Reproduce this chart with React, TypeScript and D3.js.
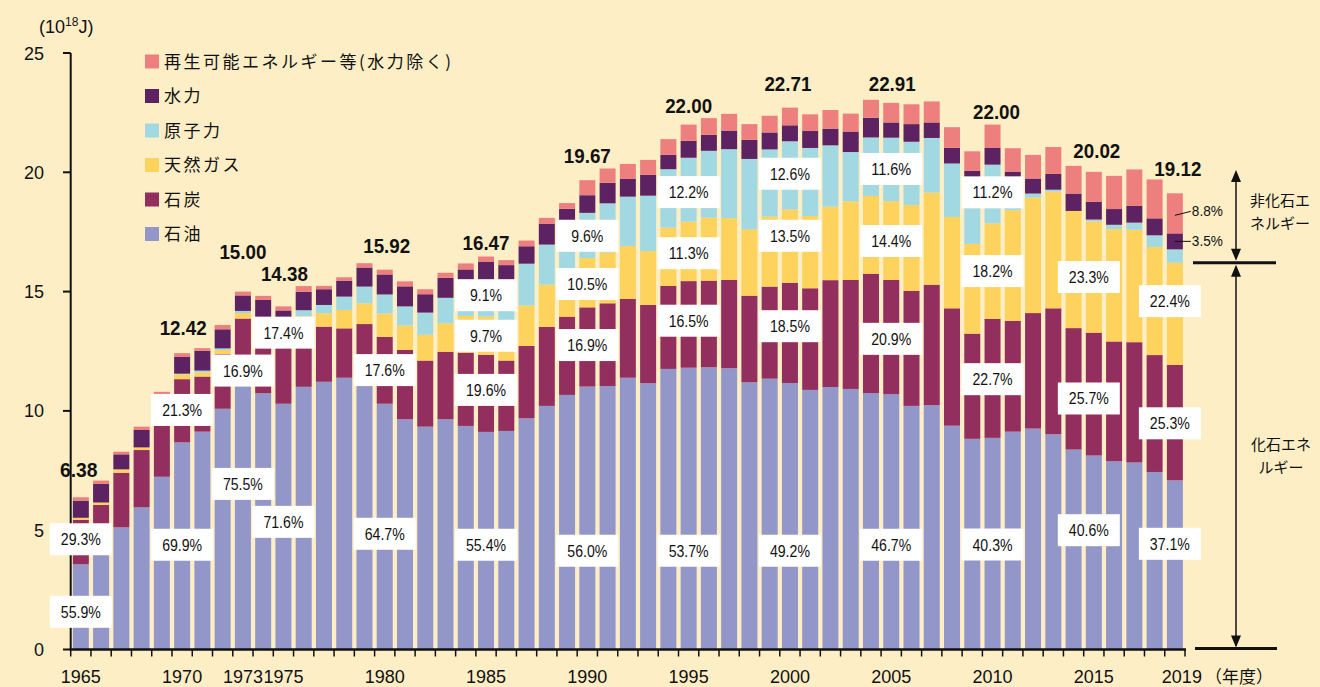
import React from "react";
import * as d3 from "d3";

// ---------- DATA ----------
const years = [
  1965, 1966, 1967, 1968, 1969, 1970, 1971, 1972, 1973, 1974,
  1975, 1976, 1977, 1978, 1979, 1980, 1981, 1982, 1983, 1984,
  1985, 1986, 1987, 1988, 1989, 1990, 1991, 1992, 1993, 1994,
  1995, 1996, 1997, 1998, 1999, 2000, 2001, 2002, 2003, 2004,
  2005, 2006, 2007, 2008, 2009, 2010, 2011, 2012, 2013, 2014,
  2015, 2016, 2017, 2018, 2019,
];
const oil = [
  3.57, 4.1, 5.12, 5.96, 7.24, 8.68, 9.13, 10.09, 11.33, 10.74,
  10.3, 11.01, 11.22, 11.39, 11.3, 10.3, 9.65, 9.34, 9.65, 9.37,
  9.12, 9.16, 9.69, 10.21, 10.67, 11.02, 11.04, 11.39, 11.16, 11.76,
  11.81, 11.83, 11.79, 11.2, 11.35, 11.17, 10.88, 11.0, 10.92, 10.75,
  10.7, 10.21, 10.24, 9.38, 8.83, 8.87, 9.13, 9.26, 9.02, 8.38,
  8.13, 7.89, 7.84, 7.44, 7.09,
];
const coal = [
  1.87, 1.96, 2.29, 2.4, 2.56, 2.65, 2.31, 2.29, 2.54, 2.74,
  2.5, 2.51, 2.31, 2.07, 2.34, 2.8, 2.91, 2.77, 2.83, 3.07,
  3.23, 2.95, 3.03, 3.31, 3.28, 3.32, 3.47, 3.3, 3.28, 3.48,
  3.63, 3.63, 3.7, 3.63, 3.86, 4.2, 4.26, 4.48, 4.57, 5.0,
  4.79, 4.82, 5.05, 4.92, 4.41, 4.99, 4.64, 4.84, 5.28, 5.09,
  5.15, 5.02, 5.04, 4.9, 4.84,
];
const gas = [
  0.08, 0.1, 0.14, 0.11, 0.15, 0.2, 0.17, 0.17, 0.23, 0.3,
  0.36, 0.45, 0.56, 0.77, 0.87, 0.98, 1.02, 1.08, 1.19, 1.54,
  1.6, 1.63, 1.7, 1.77, 1.92, 2.07, 2.13, 2.22, 2.26, 2.44,
  2.49, 2.64, 2.59, 2.78, 2.93, 3.07, 3.03, 3.08, 3.29, 3.26,
  3.3, 3.6, 3.86, 3.83, 3.76, 4.0, 4.64, 4.84, 4.89, 4.91,
  4.66, 4.71, 4.71, 4.53, 4.28,
];
const nuclear = [
  0, 0, 0, 0, 0.01, 0.03, 0.08, 0.07, 0.09, 0.12,
  0.21, 0.25, 0.35, 0.56, 0.7, 0.8, 0.8, 0.93, 1.07, 1.2,
  1.5, 1.62, 1.75, 1.68, 1.8, 1.89, 2.06, 2.07, 2.32, 2.45,
  2.68, 2.8, 2.89, 2.95, 2.82, 2.86, 2.85, 2.57, 2.07, 2.45,
  2.66, 2.65, 2.29, 2.24, 2.39, 2.46, 0.88, 0.17, 0.08, 0,
  0.08, 0.18, 0.3, 0.49, 0.56,
];
const hydro = [
  0.72, 0.78, 0.63, 0.73, 0.72, 0.7, 0.83, 0.8, 0.65, 0.75,
  0.84, 0.77, 0.66, 0.67, 0.8, 0.84, 0.84, 0.77, 0.84, 0.75,
  0.79, 0.75, 0.73, 0.88, 0.8, 0.74, 0.86, 0.74, 0.87, 0.6,
  0.71, 0.67, 0.78, 0.8, 0.71, 0.67, 0.71, 0.7, 0.86, 0.83,
  0.64, 0.74, 0.65, 0.66, 0.68, 0.7, 0.74, 0.63, 0.66, 0.73,
  0.75, 0.66, 0.7, 0.71, 0.67,
];
const renew = [
  0.14, 0.14, 0.11, 0.14, 0.12, 0.16, 0.11, 0.18, 0.16, 0.17,
  0.17, 0.24, 0.14, 0.14, 0.18, 0.2, 0.21, 0.21, 0.21, 0.25,
  0.23, 0.21, 0.24, 0.24, 0.24, 0.63, 0.6, 0.63, 0.63, 0.66,
  0.68, 0.7, 0.7, 0.66, 0.7, 0.74, 0.7, 0.78, 0.75, 0.75,
  0.82, 0.83, 0.88, 0.86, 0.81, 0.98, 0.98, 0.99, 1.13, 1.16,
  1.25, 1.39, 1.53, 1.63, 1.68,
];

const seriesKeys = ["oil", "coal", "gas", "nuclear", "hydro", "renew"];
const seriesNames = ["石油", "石炭", "天然ガス", "原子力", "水力", "再生可能エネルギー等(水力除く)"];
const seriesColors = ["#9396C9", "#922F5F", "#FDD25D", "#A2D8E1", "#5C2262", "#EE7F7F"];

const yTicks = [0, 5, 10, 15, 20, 25];
const xTickLabels = [1965, 1970, 1973, 1975, 1980, 1985, 1990, 1995, 2000, 2005, 2010, 2015, 2019];

const totalLabelYears = [1965, 1970, 1973, 1975, 1980, 1985, 1990, 1995, 2000, 2005, 2010, 2015, 2019];
const totalLabelTexts = ["6.38", "12.42", "15.00", "14.38", "15.92", "16.47", "19.67", "22.00", "22.71", "22.91", "22.00", "20.02", "19.12"];

// share labels: year, text, vertical anchor (in 10^18 J units)
const shareYears = [
  1965, 1965, 1970, 1970, 1973, 1973, 1975, 1975, 1980, 1980,
  1985, 1985, 1985, 1985, 1990, 1990, 1990, 1990, 1995, 1995, 1995, 1995,
  2000, 2000, 2000, 2000, 2005, 2005, 2005, 2005, 2010, 2010, 2010, 2010,
  2015, 2015, 2015, 2019, 2019, 2019,
];
const shareTexts = [
  "55.9%", "29.3%", "69.9%", "21.3%", "75.5%", "16.9%", "71.6%", "17.4%", "64.7%", "17.6%",
  "55.4%", "19.6%", "9.7%", "9.1%", "56.0%", "16.9%", "10.5%", "9.6%", "53.7%", "16.5%", "11.3%", "12.2%",
  "49.2%", "18.5%", "13.5%", "12.6%", "46.7%", "20.9%", "14.4%", "11.6%", "40.3%", "22.7%", "18.2%", "11.2%",
  "40.6%", "25.7%", "23.3%", "37.1%", "25.3%", "22.4%",
];
const shareAnchors = [
  1.58, 4.62, 4.39, 10.04, 6.94, 11.69, 5.35, 13.28, 4.85, 11.71,
  4.39, 10.88, 13.15, 14.85, 4.14, 12.76, 15.32, 17.34, 4.14, 13.78, 16.61, 19.17,
  4.14, 13.55, 17.34, 19.94, 4.39, 13.02, 17.12, 20.14, 4.4, 11.33, 15.86, 19.16,
  5.0, 10.52, 15.61, 4.43, 9.48, 14.6,
];
const sideShareTexts = ["8.8%", "3.5%"];

// ---------- LAYOUT ----------
const W = 1320;
const H = 687;
const totalDy = [20, 18, 33, 25, 17, 7, 17, 12, 17, 12, 6, 14, 17];
const totalDx = [-2, 1, 0, 1, 2, 0, 0, 0, -2, 1, 4, 3, 3];
const numFont = "'Liberation Sans', Arial, sans-serif";
const jpFont = "'Noto Sans CJK JP', 'Noto Sans', sans-serif";

export default function App() {
  const table = years.map((yr, i) => ({
    year: yr,
    oil: oil[i],
    coal: coal[i],
    gas: gas[i],
    nuclear: nuclear[i],
    hydro: hydro[i],
    renew: renew[i],
  }));
  const stack = d3.stack<any>().keys(seriesKeys)(table);

  const x = d3
    .scaleBand<number>()
    .domain(years)
    .range([70.7, 1185])
    .paddingInner(0.21)
    .paddingOuter(0.105);
  const y = d3.scaleLinear().domain([0, 25]).range([649.5, 53]);
  const step = x.step();
  const cx = (yr: number) => (x(yr) as number) + x.bandwidth() / 2;
  const xTickPos = d3.range(years.length + 1).map((i) => 70.7 + i * step);

  const total = (i: number) => oil[i] + coal[i] + gas[i] + nuclear[i] + hydro[i] + renew[i];
  const i2019 = years.indexOf(2019);
  const fossil2019 = oil[i2019] + coal[i2019] + gas[i2019];
  const yFossil = y(fossil2019);
  const c2019 = cx(2019);
  const yRenMid = y(total(i2019) - renew[i2019] / 2);
  const yHydMid = y(total(i2019) - renew[i2019] - hydro[i2019] / 2);

  const arrowX = 1236;
  const arrowTop = 170;
  const yBase = y(0);

  const arrowHead = (xx: number, yy: number, up: boolean) => {
    const h = 12;
    const w = 5;
    const p = up
      ? `M${xx},${yy} L${xx - w},${yy + h} L${xx + w},${yy + h} Z`
      : `M${xx},${yy} L${xx - w},${yy - h} L${xx + w},${yy - h} Z`;
    return <path d={p} fill="#111" />;
  };

  return (
    <div style={{ position: "fixed", left: 0, top: 0, width: W, height: H }}>
      <svg width={W} height={H} style={{ display: "block" }}>
        <rect x={0} y={0} width={W} height={H} fill="#FDEEC6" />

        {/* bars */}
        {stack.map((s, si) => (
          <g key={s.key} fill={seriesColors[si]}>
            {s.map((d, i) => {
              const h = y(d[0]) - y(d[1]);
              if (h <= 0) return null;
              return (
                <rect
                  key={i}
                  x={x(years[i])}
                  y={y(d[1])}
                  width={x.bandwidth()}
                  height={h}
                />
              );
            })}
          </g>
        ))}

        {/* y axis */}
        <line x1={70.7} x2={70.7} y1={y(25)} y2={yBase + 1} stroke="#111" strokeWidth={2} />
        {yTicks.map((t) => (
          <g key={t}>
            <line x1={63} x2={70.7} y1={y(t)} y2={y(t)} stroke="#111" strokeWidth={2} />
            <text
              x={44}
              y={y(t)}
              dy={6.5}
              textAnchor="end"
              fontFamily={numFont}
              fontSize={18}
              fill="#111"
            >
              {t}
            </text>
          </g>
        ))}
        <text x={39} y={33} fontFamily={numFont} fontSize={18} fill="#111">
          (10
          <tspan fontSize={12} dy={-7}>18</tspan>
          <tspan dy={7}>J)</tspan>
        </text>

        {/* x axis */}
        <line x1={69.7} x2={1186} y1={yBase} y2={yBase} stroke="#111" strokeWidth={2.5} />
        {xTickPos.map((tx, i) => (
          <line key={i} x1={tx} x2={tx} y1={yBase} y2={yBase + 7} stroke="#111" strokeWidth={1.5} />
        ))}
        {xTickLabels.map((yr) => (
          <text
            key={yr}
            x={cx(yr) + (yr === 2019 ? 7 : 0)}
            y={683}
            textAnchor="middle"
            fontFamily={numFont}
            fontSize={18}
            fill="#111"
          >
            {yr}
          </text>
        ))}
        <text x={1205} y={683} fontFamily={jpFont} fontSize={17} fill="#111">
          （年度）
        </text>

        {/* share labels */}
        {shareTexts.map((t, i) => {
          const yr = shareYears[i];
          const bx = cx(yr) + (yr >= 2015 ? -5 : 0);
          const by = y(shareAnchors[i]);
          return (
            <g key={i}>
              <rect x={bx - 31} y={by - 16} width={62} height={32} fill="#fff" />
              <text
                x={bx}
                y={by}
                dy={6}
                textAnchor="middle"
                fontFamily={numFont}
                fontSize={17}
                fill="#111"
                textLength={t.length * 8}
                lengthAdjust="spacingAndGlyphs"
              >
                {t}
              </text>
            </g>
          );
        })}

        {/* total labels */}
        {totalLabelYears.map((yr, i) => {
          const idx = years.indexOf(yr);
          const top = y(total(idx));
          const t = totalLabelTexts[i];
          return (
            <text
              key={yr}
              x={cx(yr) + totalDx[i]}
              y={top - totalDy[i]}
              textAnchor="middle"
              fontFamily={numFont}
              fontWeight="bold"
              fontSize={20}
              fill="#111"
              textLength={t.length * 9.4}
              lengthAdjust="spacingAndGlyphs"
            >
              {t}
            </text>
          );
        })}

        {/* 2019 side labels */}
        <line x1={c2019} y1={yRenMid + 2} x2={c2019 + 16} y2={yRenMid - 2} stroke="#111" strokeWidth={1} />
        <text x={c2019 + 17} y={yRenMid - 2} dy={5} fontFamily={numFont} fontSize={15} fill="#111"
          textLength={31} lengthAdjust="spacingAndGlyphs">
          {sideShareTexts[0]}
        </text>
        <line x1={c2019} y1={yHydMid} x2={c2019 + 16} y2={yHydMid} stroke="#111" strokeWidth={1} />
        <text x={c2019 + 17} y={yHydMid} dy={5} fontFamily={numFont} fontSize={15} fill="#111"
          textLength={31} lengthAdjust="spacingAndGlyphs">
          {sideShareTexts[1]}
        </text>

        {/* right-side bracket */}
        <line x1={1193} x2={1276} y1={yFossil} y2={yFossil} stroke="#111" strokeWidth={3} />
        <line x1={1195} x2={1277} y1={yBase - 1} y2={yBase - 1} stroke="#111" strokeWidth={3} />
        <line x1={arrowX} x2={arrowX} y1={arrowTop + 4} y2={yFossil - 4} stroke="#111" strokeWidth={1.5} />
        {arrowHead(arrowX, arrowTop, true)}
        {arrowHead(arrowX, yFossil - 2, false)}
        <line x1={arrowX} x2={arrowX} y1={yFossil + 4} y2={yBase - 4} stroke="#111" strokeWidth={1.5} />
        {arrowHead(arrowX, yFossil + 2, true)}
        {arrowHead(arrowX, yBase - 2, false)}
        <text x={1250} y={206} fontFamily={jpFont} fontSize={15} fill="#111">非化石エ</text>
        <text x={1250} y={229} fontFamily={jpFont} fontSize={15} fill="#111">ネルギー</text>
        <text x={1281} y={450} textAnchor="middle" fontFamily={jpFont} fontSize={15} fill="#111">化石エネ</text>
        <text x={1281} y={473} textAnchor="middle" fontFamily={jpFont} fontSize={15} fill="#111">ルギー</text>

        {/* legend */}
        {seriesKeys
          .map((k, i) => i)
          .reverse()
          .map((si, row) => {
            const ty = 54.5 + row * 34.5;
            return (
              <g key={si}>
                <rect x={145} y={ty} width={14} height={14} fill={seriesColors[si]} />
                <text
                  x={164}
                  y={ty + 7}
                  dy={6}
                  fontFamily={jpFont}
                  fontSize={17}
                  letterSpacing={2.5}
                  fill="#111"
                >
                  {seriesNames[si]}
                </text>
              </g>
            );
          })}
      </svg>
    </div>
  );
}
